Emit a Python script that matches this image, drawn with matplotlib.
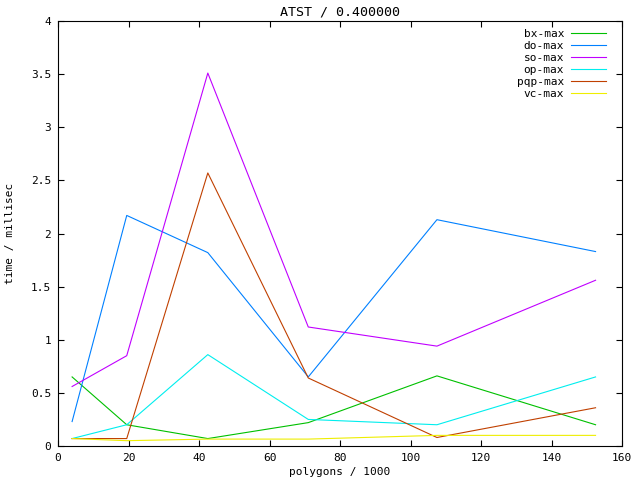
import matplotlib
matplotlib.use("Agg")
import matplotlib.pyplot as plt

# polygon counts (thousands) and max times (millisec) per method
polygons = [4, 19.5, 42.5, 71, 107.5, 152.5]
bx_max = [0.65, 0.20, 0.07, 0.22, 0.66, 0.20]
do_max = [0.23, 2.17, 1.82, 0.65, 2.13, 1.83]
so_max = [0.56, 0.85, 3.51, 1.12, 0.94, 1.56]
op_max = [0.07, 0.20, 0.86, 0.25, 0.20, 0.65]
pqp_max = [0.07, 0.07, 2.57, 0.64, 0.08, 0.36]
vc_max = [0.07, 0.05, 0.065, 0.065, 0.10, 0.10]

names = ["bx-max", "do-max", "so-max", "op-max", "pqp-max", "vc-max"]
series = [bx_max, do_max, so_max, op_max, pqp_max, vc_max]
colors = ["#00c000", "#0080ff", "#c000ff", "#00eeee", "#c04000", "#eeee00"]

plt.rcParams['font.family'] = ['DejaVu Sans Mono']
plt.rcParams['font.size'] = 8

fig = plt.figure(figsize=(6.4, 4.8), dpi=100)
ax = fig.add_axes([58/640, 34/480, 564/640, 425/480])

for name, vals, c in zip(names, series, colors):
    ax.plot(polygons, vals, color=c, linewidth=0.8, label=name)

ax.set_xlim(0, 160)
ax.set_ylim(0, 4)
ax.set_xticks(range(0, 161, 20))
ax.set_yticks([0, 0.5, 1, 1.5, 2, 2.5, 3, 3.5, 4])
ax.set_yticklabels(["0", "0.5", "1", "1.5", "2", "2.5", "3", "3.5", "4"])
ax.tick_params(direction="in", top=True, right=True, length=4, width=0.8, pad=5)
for s in ax.spines.values():
    s.set_linewidth(0.8)

ax.set_title("ATST / 0.400000", pad=4)
ax.set_xlabel("polygons / 1000")
ax.set_ylabel("time / millisec")
ax.xaxis.set_label_coords(0.5, -0.049)
ax.yaxis.set_label_coords(-0.076, 0.5)

ax.legend(loc="upper right", frameon=False, markerfirst=False,
          handlelength=3.15, handletextpad=0.65, labelspacing=0.18,
          borderaxespad=0.0, bbox_to_anchor=(0.98, 0.992))

fig.savefig("out.png", dpi=100)
